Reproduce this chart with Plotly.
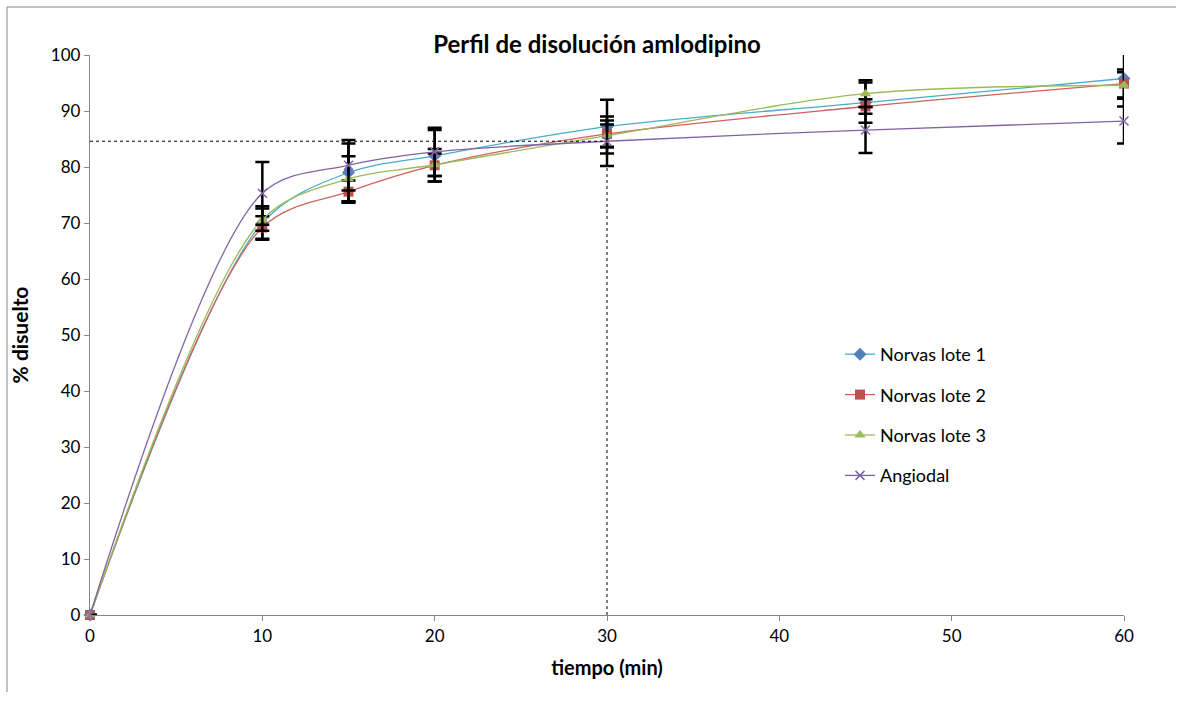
import plotly.graph_objects as go

tiempo = [0, 10, 15, 20, 30, 45, 60]
lote1 = [0, 70.0, 79.0, 82.0, 87.2, 91.5, 95.8]
lote2 = [0, 69.2, 75.6, 80.3, 85.9, 90.8, 94.9]
lote3 = [0, 70.6, 77.9, 80.4, 85.6, 93.1, 94.6]
angiodal = [0, 75.3, 80.3, 82.7, 84.6, 86.6, 88.2]

err1 = [0, 3.0, 5.2, 4.6, 4.8, 3.6, 5.0]
err2 = [0, 2.0, 2.0, 2.9, 2.4, 1.3, 2.5]
err3 = [0, 2.0, 4.0, 2.0, 2.0, 2.4, 2.3]
err4 = [0, 5.6, 4.5, 4.3, 4.4, 4.1, 4.0]

names = ["Norvas lote 1", "Norvas lote 2", "Norvas lote 3", "Angiodal"]
line_colors = ["#4BACC6", "#D0615E", "#9BBB59", "#8064A2"]
marker_colors = ["#4F81BD", "#C0504D", "#9BBB59", "#8064A2"]
symbols = ["diamond", "square", "triangle-up", "x-thin"]
sizes = [10, 10, 10, 9]

FONT = "Lato, 'Open Sans', sans-serif"

fig = go.Figure()
series = [lote1, lote2, lote3, angiodal]
errs = [err1, err2, err3, err4]
for i in range(4):
    marker = dict(symbol=symbols[i], size=sizes[i], color=marker_colors[i])
    if symbols[i] == "x-thin":
        marker["line"] = dict(color=marker_colors[i], width=1.5)
    fig.add_trace(go.Scatter(
        x=tiempo, y=series[i], name=names[i], mode="lines+markers",
        line=dict(color=line_colors[i], width=1.3, shape="spline", smoothing=0.9),
        marker=marker,
        error_y=dict(type="data", array=errs[i], visible=True, color="black",
                     thickness=2.5, width=7),
        legendgroup=f"g{i}", cliponaxis=False,
    ))

ref_y = angiodal[tiempo.index(30)]
fig.add_shape(type="line", x0=0, x1=30, y0=ref_y, y1=ref_y, xref="x", yref="y",
              line=dict(color="black", width=1, dash="dot"))
fig.add_shape(type="line", x0=30, x1=30, y0=0, y1=ref_y, xref="x", yref="y",
              line=dict(color="black", width=1, dash="dot"))

# chart frame (left and top edges)
L, R, T, B = 90, 59, 55, 87
pw = 1183 - L - R
ph = 702 - T - B
fx0 = (7 - L) / pw
fy1 = (702 - 7 - B) / ph
fig.add_shape(type="line", xref="paper", yref="paper", x0=fx0, x1=fx0, y0=(702 - 692 - B) / ph, y1=fy1,
              line=dict(color="#868686", width=1))
fig.add_shape(type="line", xref="paper", yref="paper", x0=fx0, x1=(1183 - 7 - L) / pw, y0=fy1, y1=fy1,
              line=dict(color="#868686", width=1))

fig.update_layout(
    width=1183, height=702,
    margin=dict(l=L, r=R, t=T, b=B),
    paper_bgcolor="white", plot_bgcolor="white",
    font=dict(family=FONT, size=17, color="black"),
    title=dict(text="<b>Perfil de disolución amlodipino</b>", x=(597 - L) / pw, xanchor="center",
               xref="paper",
               y=1 - 45 / 702, yanchor="middle", font=dict(size=24, family=FONT)),
    showlegend=True,
    legend=dict(x=(840 - L) / pw, y=(702 - 336 - B) / ph, xanchor="left", yanchor="top",
                font=dict(size=18, family=FONT), tracegroupgap=14, traceorder="grouped",
                bgcolor="rgba(0,0,0,0)", itemwidth=30),
    xaxis=dict(range=[0, 60], tickvals=[0, 10, 20, 30, 40, 50, 60], showgrid=False,
               zeroline=False, showline=True, linecolor="#868686", linewidth=1.3,
               ticks="outside", ticklen=5, tickcolor="#868686",
               title=dict(text="<b>tiempo (min)</b>", font=dict(size=20), standoff=16)),
    yaxis=dict(range=[0, 100], tickvals=list(range(0, 101, 10)), showgrid=False,
               zeroline=False, showline=True, linecolor="#868686", linewidth=1.3,
               ticks="outside", ticklen=5, tickcolor="#868686",
               title=dict(text="<b>% disuelto</b>", font=dict(size=21), standoff=16)),
)

fig.write_html("out.html")
